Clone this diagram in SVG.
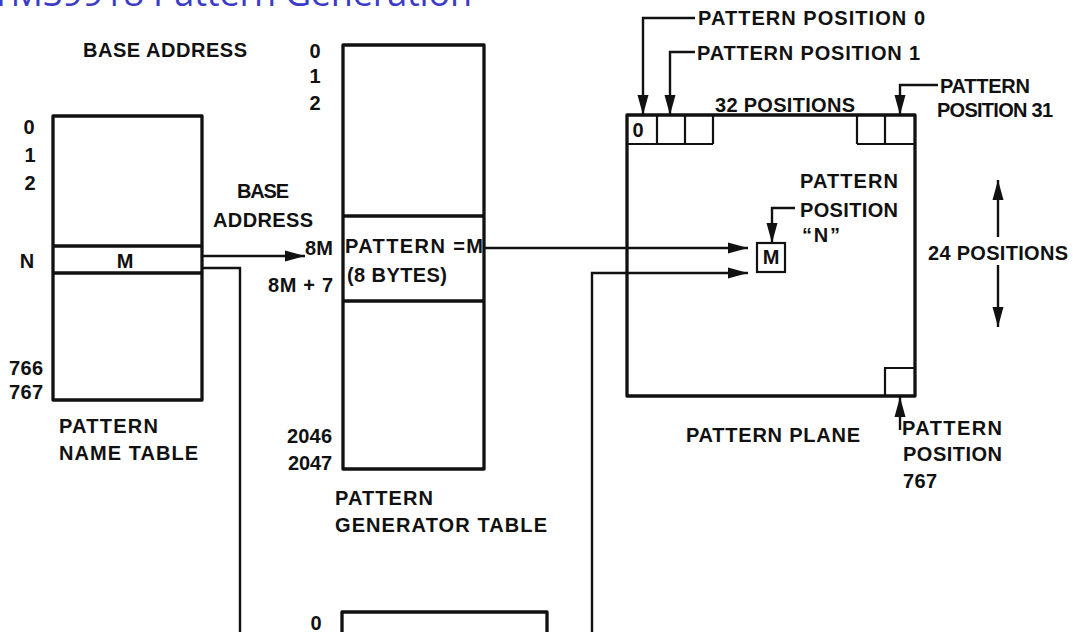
<svg xmlns="http://www.w3.org/2000/svg" width="1073" height="632" viewBox="0 0 1073 632">
<defs>
<style>
.t{font-family:"Liberation Sans",Arial,sans-serif;font-weight:bold;font-size:20px;fill:#111}
.c{text-anchor:middle}
.box{fill:none;stroke:#111;stroke-width:3.3;stroke-linejoin:round}
.cell{fill:none;stroke:#111;stroke-width:2.2}
.ln{fill:none;stroke:#111;stroke-width:2.4}
.ttl{font-family:"Open Sans","Noto Sans",sans-serif;font-size:36px;fill:#3b3bc8}
</style>
<marker id="ah" markerUnits="userSpaceOnUse" markerWidth="22" markerHeight="14" refX="20" refY="7" orient="auto">
<path d="M0,1.5 L20,7 L0,12.5 Z" fill="#111"/>
</marker>
</defs>
<rect width="1073" height="632" fill="#fff"/>
<text class="ttl" x="-9" y="6" textLength="481">TMS9918 Pattern Generation</text>

<g id="name-table">
<rect class="box" x="53" y="116" width="149" height="284"/>
<line class="box" x1="53" y1="246" x2="202" y2="246"/>
<line class="box" x1="53" y1="273" x2="202" y2="273"/>
<text class="t c" x="125" y="268">M</text>
<text class="t c" x="29" y="134">0</text>
<text class="t c" x="30" y="162">1</text>
<text class="t c" x="30" y="190">2</text>
<text class="t c" x="27" y="268">N</text>
<text class="t" x="9" y="375" textLength="34">766</text>
<text class="t" x="9" y="399" textLength="34">767</text>
<text class="t" x="59" y="433" textLength="99">PATTERN</text>
<text class="t" x="59" y="460" textLength="139">NAME TABLE</text>
<text class="t" x="83" y="57" textLength="164">BASE ADDRESS</text>
</g>

<g id="generator-table">
<rect class="box" x="343" y="45" width="141" height="424"/>
<line class="box" x1="343" y1="216" x2="484" y2="216"/>
<line class="box" x1="343" y1="301" x2="484" y2="301"/>
<text class="t" x="345" y="253" textLength="138">PATTERN =M</text>
<text class="t" x="347" y="282" textLength="100">(8 BYTES)</text>
<text class="t c" x="315" y="58">0</text>
<text class="t c" x="315" y="83">1</text>
<text class="t c" x="315" y="110">2</text>
<text class="t" x="287" y="443" textLength="45">2046</text>
<text class="t" x="288" y="470" textLength="44">2047</text>
<text class="t" x="335" y="505" textLength="98">PATTERN</text>
<text class="t" x="335" y="532" textLength="212">GENERATOR TABLE</text>
<text class="t" x="237" y="198" textLength="52">BASE</text>
<text class="t" x="213" y="227" textLength="100">ADDRESS</text>
<text class="t" x="305" y="255" textLength="28">8M</text>
<text class="t" x="268" y="292" textLength="65">8M + 7</text>
</g>

<g id="lower-table">
<path class="box" d="M342,634 V612 H547 V634"/>
<text class="t c" x="316" y="630">0</text>
</g>

<g id="pattern-plane">
<rect class="box" x="627" y="115" width="288" height="281"/>
<path class="cell" d="M627,144 H713 M657,115 V144 M685,115 V144 M713,115 V144"/>
<path class="cell" d="M857,144 H915 M857,115 V144 M885,115 V144"/>
<path class="cell" d="M885,396 V368 H915"/>
<text class="t c" x="638" y="137">0</text>
<rect class="cell" x="757" y="243" width="28" height="29"/>
<text class="t c" x="771" y="264">M</text>
<text class="t" x="715" y="112" textLength="140">32 POSITIONS</text>
<text class="t" x="686" y="442" textLength="174">PATTERN PLANE</text>
<text class="t" x="928" y="260" textLength="140">24 POSITIONS</text>
<text class="t" x="698" y="25" textLength="227">PATTERN POSITION 0</text>
<text class="t" x="697" y="60" textLength="223">PATTERN POSITION 1</text>
<text class="t" x="940" y="93" textLength="90">PATTERN</text>
<text class="t" x="937" y="117" textLength="116">POSITION 31</text>
<text class="t" x="800" y="188" textLength="98">PATTERN</text>
<text class="t" x="800" y="217" textLength="98">POSITION</text>
<text class="t" x="802" y="242" textLength="38">“N”</text>
<text class="t" x="902" y="435" textLength="100">PATTERN</text>
<text class="t" x="903" y="461" textLength="99">POSITION</text>
<text class="t" x="903" y="488" textLength="34">767</text>
</g>

<g id="connectors">
<path class="ln" d="M202,256 H305" marker-end="url(#ah)"/>
<path class="ln" d="M202,268 H240 V634"/>
<path class="ln" d="M484,248 H748" marker-end="url(#ah)"/>
<path class="ln" d="M592,634 V273 H748" marker-end="url(#ah)"/>
<path class="ln" d="M695,18 H643 V115" marker-end="url(#ah)"/>
<path class="ln" d="M695,52 H670 V115" marker-end="url(#ah)"/>
<path class="ln" d="M938,85 H900 V115" marker-end="url(#ah)"/>
<path class="ln" d="M795,208 H772 V243" marker-end="url(#ah)"/>
<path class="ln" d="M998,237 V180" marker-end="url(#ah)"/>
<path class="ln" d="M998,265 V327" marker-end="url(#ah)"/>
<path class="ln" d="M900,430 V397" marker-end="url(#ah)"/>
</g>
</svg>
